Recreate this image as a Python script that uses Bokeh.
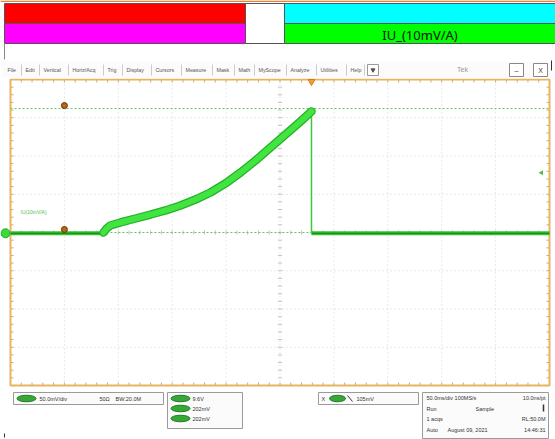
from bokeh.plotting import figure
from bokeh.models import Range1d
from bokeh.layouts import column
from bokeh.embed import file_html
from bokeh.resources import INLINE
from bokeh.core.properties import value
import math

# ---------------- data (time in ms, signal in mV) ----------------
t_flat_left = [-250, -163.7]
v_flat_left = [-1, -1]
t_rise = [-163.7, -160.9, -157.2, -148.0, -134.0, -120.1, -106.2, -92.3, -78.4,
          -64.5, -50.6, -36.6, -22.7, -8.8, 5.1, 19.0, 29.2]
v_rise = [0, 5.2, 9.2, 13.1, 18.3, 23.5, 28.8, 35.3, 43.1,
          52.3, 64.1, 78.4, 94.1, 111.1, 128.1, 145.1, 158.2]
t_drop = [29.2, 29.2]
v_drop = [158.2, -1]
t_flat_right = [29.2, 250]
v_flat_right = [-1, -1]
cursor_levels = [162, 0]
cursor_time = -200
trigger_time = 29.2
trigger_level = 78
x_divs = [-200, -150, -100, -50, 0, 50, 100, 150, 200]
y_divs = [-150, -100, -50, 0, 50, 100, 150]
channel_label = "IU(10mV/A)"
header_label = "IU_(10mV/A)"
menu_items = ["File", "Edit", "Vertical", "Horiz/Acq", "Trig", "Display", "Cursors",
              "Measure", "Mask", "Math", "MyScope", "Analyze", "Utilities", "Help"]
chan_readout = ["50.0mV/div", "50\u03a9", "BW:20.0M"]
cursor_readout = ["9.6V", "202mV", "202mV"]
trig_readout = "105mV"
acq_rows = [("50.0ms/div 100MS/s", "10.0ns/pt"), ("Run", "Sample"), ("1 acqs", "RL:50.0M"),
            ("Auto", "August 09, 2021", "14:46:31")]

# ---------------- layout constants ----------------
W = 555
HDR_H = 78
GX0, GX1, GY0, GY1 = 10, 549, 79, 385
SC_TOP, SC_BOT = 78, 388
FONT = value("Liberation Sans")


def base(w, h, xr, yr):
    p = figure(width=w, height=h, x_range=xr, y_range=yr, output_backend="svg",
               toolbar_location=None, x_axis_location=None, y_axis_location=None,
               min_border=0, min_border_left=0, min_border_right=0,
               min_border_top=0, min_border_bottom=0)
    p.grid.visible = False
    p.outline_line_color = None
    p.background_fill_color = "white"
    p.border_fill_color = "white"
    return p


# ---------------- header ----------------
hdr = base(W, HDR_H, Range1d(0, W), Range1d(HDR_H, 0))
hdr.quad(left=[0], right=[W], top=[0], bottom=[1.5], fill_color="#ED7D31", line_color=None)
hdr.quad(left=[4, 4, 245, 284, 284], right=[245, 245, 284, W, W],
         top=[3, 23, 3, 3, 23], bottom=[23, 43, 43, 23, 43],
         fill_color=["#FF0000", "#FF00FF", "#FFFFFF", "#00FFFF", "#00FF00"],
         line_color="#555555", line_width=1)
hdr.segment(x0=[4], y0=[43], x1=[4], y1=[59], line_color="#888888", line_width=1)
hdr.text(x=[(284 + W) / 2], y=[34], text=[header_label], text_align="center",
         text_baseline="middle", text_font=value("Noto Sans"), text_font_size="13px",
         text_color="#111111")
# toolbar
hdr.quad(left=[1], right=[W - 4], top=[61], bottom=[77], fill_color="#fbfbfb", line_color=None)
menu_x = [7, 25, 43, 72, 107, 126, 155, 185, 216, 238, 258, 290, 320, 350]
hdr.text(x=menu_x, y=[69] * len(menu_items), text=menu_items, text_baseline="middle",
         text_font=FONT, text_font_size="5.3px", text_color="#555555")
sep_x = [21, 39, 68, 103, 122, 151, 181, 212, 234, 254, 286, 316, 346, 364]
hdr.segment(x0=sep_x, y0=[64] * len(sep_x), x1=sep_x, y1=[75] * len(sep_x),
            line_color="#cccccc", line_width=1)
hdr.quad(left=[367], right=[378], top=[64], bottom=[75], fill_color="white",
         line_color="#999999", line_width=1)
hdr.scatter(x=[372.5], y=[69.5], marker="inverted_triangle", size=4, color="#555555")
hdr.text(x=[462], y=[69], text=["Tek"], text_align="center", text_baseline="middle",
         text_font=FONT, text_font_size="7px", text_color="#999999")
hdr.quad(left=[509, 533], right=[523, 547], top=[63, 63], bottom=[76, 76], fill_color="white",
         line_color="#888888", line_width=1)
hdr.text(x=[516, 540], y=[70, 69.5], text=["\u2013", "X"], text_align="center",
         text_baseline="middle", text_font=FONT, text_font_size="7px", text_color="#333333")
hdr.segment(x0=[551], y0=[60], x1=[551], y1=[70], line_color="#333333", line_width=1)

# ---------------- scope screen ----------------
mspx = 500.0 / (GX1 - GX0)
mvpx = 400.0 / (GY1 - GY0)
scope = base(W, SC_BOT - SC_TOP,
             Range1d(-250 - GX0 * mspx, 250 + (W - GX1) * mspx),
             Range1d(-200 - (SC_BOT - GY1) * mvpx, 200 + (GY0 - SC_TOP) * mvpx))

# dotted graticule
scope.segment(x0=x_divs, y0=[-200] * len(x_divs), x1=x_divs, y1=[200] * len(x_divs),
              line_color="#d2d2d2", line_dash="1 3", line_width=1)
scope.segment(x0=[-250] * len(y_divs), y0=y_divs, x1=[250] * len(y_divs), y1=y_divs,
              line_color="#d2d2d2", line_dash="1 3", line_width=1)
# minor ticks
tx = [-250 + 10 * i for i in range(1, 50)]
ty = [-200 + 10 * i for i in range(1, 40)]
tl = 3 * mvpx
tw = 3 * mspx
scope.segment(x0=tx, y0=[200] * len(tx), x1=tx, y1=[200 - tl] * len(tx), line_color="#c9a878", line_width=1)
scope.segment(x0=tx, y0=[-200] * len(tx), x1=tx, y1=[-200 + tl] * len(tx), line_color="#c9a878", line_width=1)
scope.segment(x0=[-250] * len(ty), y0=ty, x1=[-250 + tw] * len(ty), y1=ty, line_color="#c9a878", line_width=1)
scope.segment(x0=[250] * len(ty), y0=ty, x1=[250 - tw] * len(ty), y1=ty, line_color="#c9a878", line_width=1)
scope.segment(x0=tx, y0=[-tl * 0.7] * len(tx), x1=tx, y1=[tl * 0.7] * len(tx), line_color="#c4c4c4", line_width=1)
scope.segment(x0=[-tw * 0.7] * len(ty), y0=ty, x1=[tw * 0.7] * len(ty), y1=ty, line_color="#c4c4c4", line_width=1)
# border
scope.quad(left=[-250], right=[250], bottom=[-200], top=[200], fill_color=None,
           line_color="#E9B460", line_width=2)

# cursors
scope.segment(x0=[-250] * 2, y0=cursor_levels, x1=[250] * 2, y1=cursor_levels,
              line_color="#62c862", line_dash="2 2", line_width=1)

# trace
scope.line(t_flat_left, v_flat_left, line_color="#2fc42f", line_width=4)
scope.line(t_flat_left, v_flat_left, line_color="#1b7f1b", line_width=1.2)
scope.line(t_flat_right, v_flat_right, line_color="#2fc42f", line_width=4)
scope.line(t_flat_right, v_flat_right, line_color="#1b7f1b", line_width=1.2)
scope.line(t_drop, v_drop, line_color="#3cc83c", line_width=1.5)
scope.line(t_rise, v_rise, line_color="#25b025", line_width=8.5, line_cap="round")
scope.line(t_rise, v_rise, line_color="#42e442", line_width=6, line_cap="round")

# markers
scope.scatter(x=[cursor_time] * 2, y=[v + 3 * mvpx for v in cursor_levels], size=6,
              fill_color="#B8661A", line_color="#6a3300", line_width=1)
scope.scatter(x=[trigger_time], y=[200 - 2 * mvpx], marker="inverted_triangle", size=7,
              fill_color="#F0A030", line_color="#d08010")
scope.scatter(x=[-250 - 5 * mspx], y=[v_flat_left[0]], size=9, fill_color="#3ada3a",
              line_color="#2aa82a")
scope.scatter(x=[250 - 8 * mspx], y=[trigger_level], marker="triangle", angle=math.pi / 2,
              size=5, fill_color="#4cbb4c", line_color=None)
scope.text(x=[-250], y=[27], text=[channel_label], x_offset=10, text_baseline="middle",
           text_font=FONT, text_font_size="5px", text_color="#55bb55")

# ---------------- footer ----------------
FH = 439 - SC_BOT
ft = base(W, FH, Range1d(0, W), Range1d(439, SC_BOT))
ft.quad(left=[13, 167, 318, 422], right=[163, 242, 418, 548], top=[392, 392, 392, 392],
        bottom=[404, 428, 404, 438], fill_color="#fbfbfb", line_color="#9a9a9a", line_width=1)
ft.ellipse(x=[26, 180, 180, 180, 337], y=[398, 398, 408, 418, 398],
           width=[19, 19, 19, 19, 16], height=6.5, fill_color="#37a837", line_color="#237a23")
ft.text(x=[39, 99, 115], y=[398] * 3, text=chan_readout, text_baseline="middle",
        text_font=FONT, text_font_size="5.5px", text_color="#333333")
ft.text(x=[192] * 3, y=[398, 408, 418], text=cursor_readout, text_baseline="middle",
        text_font=FONT, text_font_size="5.5px", text_color="#333333")
ft.text(x=[321], y=[398], text=["X"], text_baseline="middle", text_font=FONT,
        text_font_size="5.5px", text_color="#333333")
ft.segment(x0=[347], y0=[395], x1=[352], y1=[401], line_color="#333333", line_width=1)
ft.text(x=[356], y=[398], text=[trig_readout], text_baseline="middle", text_font=FONT,
        text_font_size="5.5px", text_color="#333333")
ft.text(x=[426, 426, 426, 426, 475, 447], y=[397, 408, 418, 429, 408, 429],
        text=[acq_rows[0][0], acq_rows[1][0], acq_rows[2][0], acq_rows[3][0],
              acq_rows[1][1], acq_rows[3][1]],
        text_baseline="middle", text_font=FONT, text_font_size="5.5px", text_color="#333333")
ft.text(x=[545, 545, 545], y=[397, 418, 429], text=[acq_rows[0][1], acq_rows[2][1], acq_rows[3][2]],
        text_align="right", text_baseline="middle", text_font=FONT, text_font_size="5.5px",
        text_color="#333333")
ft.segment(x0=[543], y0=[404], x1=[543], y1=[411], line_color="#333333", line_width=1.5)
ft.segment(x0=[4], y0=[433], x1=[4], y1=[437], line_color="#333333", line_width=1)

layout = column(hdr, scope, ft, spacing=0)
html = file_html(layout, INLINE)
html = html.replace("<head>", "<head><style>html,body{margin:0;padding:0;overflow:hidden}</style>", 1)
open("out.html", "w").write(html)
